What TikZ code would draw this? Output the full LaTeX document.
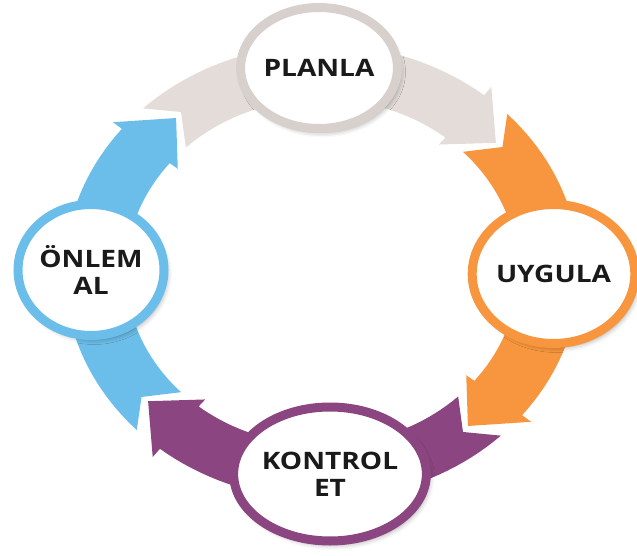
\documentclass[tikz,border=0pt]{standalone}
\usepackage{fontspec}
\newfontfamily\lblfont{Open Sans}[FakeStretch=1.17]
\usetikzlibrary{shapes.geometric,shadows.blur}
\definecolor{cgray}{RGB}{227,220,216}
\definecolor{cgrayring}{RGB}{216,208,204}
\definecolor{corange}{RGB}{247,150,62}
\definecolor{cpurple}{RGB}{139,69,128}
\definecolor{cblue}{RGB}{108,190,234}
\definecolor{ctext}{RGB}{26,26,26}
\begin{document}
\begin{tikzpicture}[x=1pt,y=-1pt,
  stage/.style={ellipse, fill=white, inner sep=0pt, line width=9pt, text=ctext,
    font=\lblfont\bfseries\fontsize{24}{27}\selectfont, align=center,
    blur shadow={shadow xshift=3pt, shadow yshift=-4pt, shadow blur radius=5pt, shadow opacity=35}},
]
\useasboundingbox (0,0) rectangle (637,556);
\foreach \T/\col in {-134/cgray,-44/corange,46/cpurple,136/cblue}{
  \pgfmathsetmacro\Tb{\T+83}
  \pgfmathsetmacro\Tp{\T+94}
  \pgfmathsetmacro\Tn{\T+6}
  \fill[\col] plot[domain=\T:\Tb,samples=40] ({322+257.5*cos(\x)},{272+227.5*sin(\x)})
    -- ({322+269*cos(\Tb)},{272+238*sin(\Tb)})
    -- ({322+227*cos(\Tp)},{272+201*sin(\Tp)})
    -- ({322+185.6*cos(\Tb)},{272+164*sin(\Tb)})
    -- plot[domain=\Tb:\T,samples=40] ({322+196*cos(\x)},{272+173*sin(\x)})
    -- ({322+229*cos(\Tn)},{272+203*sin(\Tn)}) -- cycle;
}
\node[stage, draw=cgrayring, minimum width=139pt, minimum height=121pt] (planla) at (319,68) {PLANLA};
\node[stage, draw=corange, minimum width=154pt, minimum height=139pt] (uygula) at (553.5,274) {UYGULA};
\node[stage, draw=cpurple, minimum width=166pt, minimum height=134pt] (kontrol) at (330,474) {KONTROL\\ET};
\node[stage, draw=cblue, minimum width=144pt, minimum height=131pt] (onlem) at (91,270) {ÖNLEM\\AL};
\end{tikzpicture}
\end{document}
